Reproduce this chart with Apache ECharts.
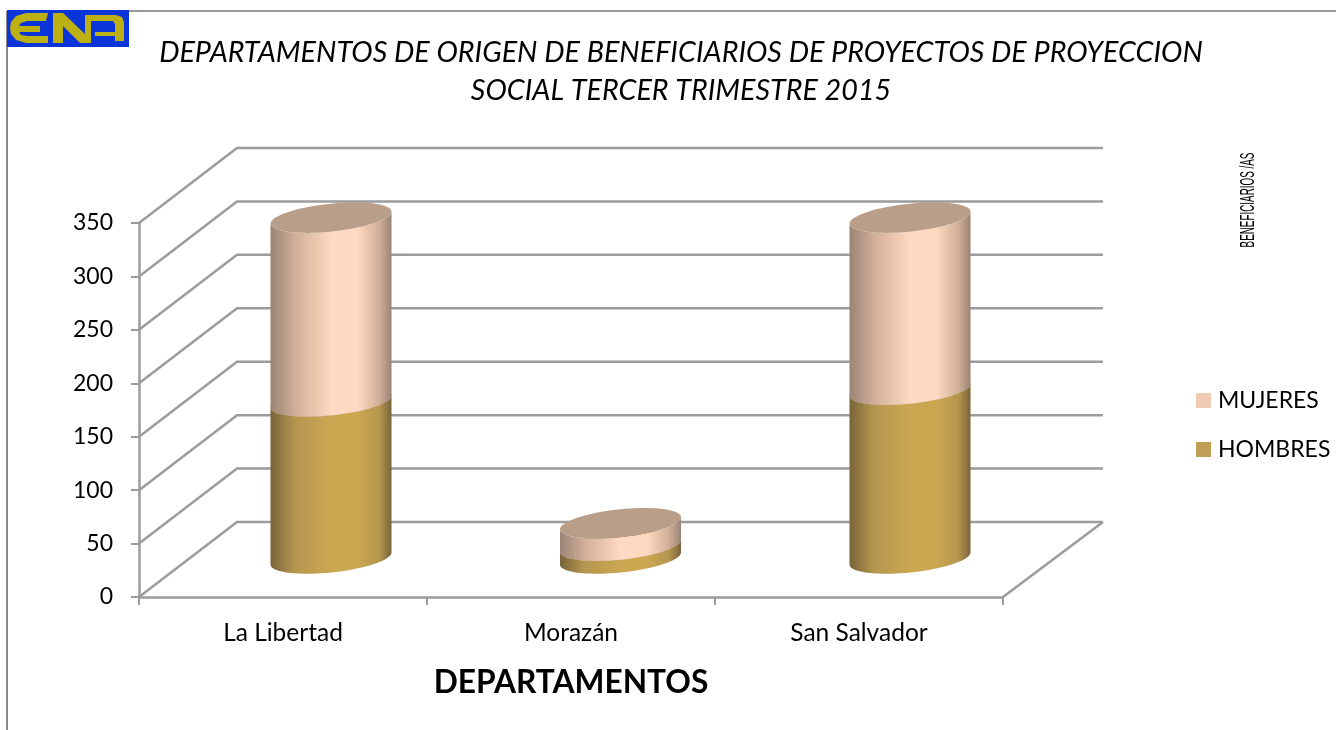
<!DOCTYPE html>
<html>
<head>
<meta charset="utf-8">
<title>Departamentos de origen</title>
<script src="https://cdn.jsdelivr.net/npm/echarts@6/dist/echarts.min.js"></script>
<style>
    html, body { margin: 0; padding: 0; background: #fff; }
    #chart { width: 1336px; height: 730px; }
</style>
</head>
<body>
<div id="chart"></div>
<script>
    var categories = ['La Libertad', 'Morazán', 'San Salvador'];
    var hombres = [147, 12, 158];
    var mujeres = [172, 21, 161];
    var wallTicks = [0, 50, 100, 150, 200, 250, 300, 350];

    var fontName = 'Lato';
    var lineColor = '#9c9c9c';
    // depth of the fake 3d box, in pixels
    var depthX = 98;
    var depthY = -75;
    var radiusX = 60.5;
    var radiusY = 14;
    var skew = -0.1;
    var spread = 1.5;

    function sideGradient(colors) {
        return new echarts.graphic.LinearGradient(0, 0, 1, 0, [
            { offset: 0, color: colors[0] },
            { offset: 0.2, color: colors[1] },
            { offset: 0.5, color: colors[2] },
            { offset: 0.72, color: colors[2] },
            { offset: 0.9, color: colors[1] },
            { offset: 1, color: colors[0] }
        ]);
    }

    function ellipsePoint(cx, cy, t) {
        var c = Math.cos(t);
        return [cx + radiusX * c, cy + radiusY * Math.sin(t) + skew * radiusX * c];
    }

    function renderWall(params, api) {
        var rect = params.coordSys;
        var y = api.coord([0, api.value(1)])[1];
        var left = rect.x, right = rect.x + rect.width;
        var children = [{
            type: 'polyline',
            shape: { points: [[left, y], [left + depthX, y + depthY], [right + depthX + 2, y + depthY]] },
            style: { stroke: lineColor, lineWidth: 2.5, fill: null }
        }];
        if (api.value(1) === 0) {
            children.push({
                type: 'line',
                shape: { x1: right, y1: y, x2: right + depthX + 2, y2: y + depthY },
                style: { stroke: lineColor, lineWidth: 2.5 }
            });
        }
        return { type: 'group', children: children };
    }

    function cylinderRenderer(sideColors, topColor) {
        return function (params, api) {
            var low = api.coord([api.value(0), api.value(1)]);
            var high = api.coord([api.value(0), api.value(2)]);
            var cx = low[0] + depthX / 2 - 1 + spread * api.value(0);
            var lowY = low[1] + depthY / 2 - 1;
            var highY = high[1] + depthY / 2 - 1;
            var side = [], top = [], i;
            for (i = 0; i <= 40; i++) {
                side.push(ellipsePoint(cx, lowY, Math.PI * i / 40));
            }
            for (i = 40; i >= 0; i--) {
                side.push(ellipsePoint(cx, highY, Math.PI * i / 40));
            }
            for (i = 0; i < 80; i++) {
                top.push(ellipsePoint(cx, highY, Math.PI * i / 40));
            }
            return {
                type: 'group',
                children: [
                    { type: 'polygon', shape: { points: side }, style: { fill: sideGradient(sideColors) } },
                    { type: 'polygon', shape: { points: top }, style: { fill: topColor } }
                ]
            };
        };
    }

    var hombresData = categories.map(function (c, i) {
        return [i, 0, hombres[i]];
    });
    var mujeresData = categories.map(function (c, i) {
        return [i, hombres[i], hombres[i] + mujeres[i]];
    });
    var wallData = wallTicks.map(function (v) {
        return [0, v];
    });

    var logoE = [[26,13],[48,13],[46,21],[27,21],[21,23],[19,26],[40,26],[40,32],[19,32],[21,35],[27,36],[48,36],[48,43],[26,43],[16,40],[11,34],[10,28],[11,22],[16,16]];
    var logoNA = [[53,13],[63,13],[85,34],[85,15],[116,15],[122,17],[124,22],[124,41],[115,41],[115,36],[95,36],[95,32],[115,32],[115,24],[113,21],[91,21],[91,43],[80,43],[63,26],[63,43],[53,43]];

    var chart = echarts.init(document.getElementById('chart'));
    chart.setOption({
        animation: false,
        backgroundColor: '#fff',
        textStyle: { fontFamily: fontName },
        title: {
            text: 'DEPARTAMENTOS DE ORIGEN DE BENEFICIARIOS DE PROYECTOS DE PROYECCION\nSOCIAL TERCER TRIMESTRE 2015',
            left: 676,
            top: 29,
            textAlign: 'center',
            textStyle: { fontFamily: fontName, fontSize: 28.7, fontStyle: 'italic', fontWeight: 'normal', color: '#000', lineHeight: 38 }
        },
        legend: {
            orient: 'vertical',
            left: 1196,
            top: 389,
            padding: 0,
            itemWidth: 15,
            itemHeight: 15,
            itemGap: 26,
            icon: 'rect',
            data: ['MUJERES', 'HOMBRES'],
            textStyle: { fontFamily: fontName, fontSize: 23, color: '#000', padding: [0, 0, 0, 2] }
        },
        grid: { left: 139, right: 333, top: 223, bottom: 133 },
        xAxis: {
            type: 'category',
            data: categories,
            name: 'DEPARTAMENTOS',
            nameLocation: 'middle',
            nameGap: 70,
            nameTextStyle: { fontFamily: fontName, fontSize: 31.7, fontWeight: 'bold', color: '#000' },
            axisLine: { lineStyle: { color: lineColor, width: 2.5 } },
            axisTick: { show: true, alignWithLabel: false, length: 8, lineStyle: { color: lineColor, width: 2 } },
            axisLabel: { fontFamily: fontName, fontSize: 24.5, color: '#000', margin: 24 }
        },
        yAxis: {
            type: 'value',
            min: 0,
            max: 350,
            interval: 50,
            splitLine: { show: false },
            axisLine: { show: true, lineStyle: { color: lineColor, width: 2.5 } },
            axisTick: { show: true, length: 8, lineStyle: { color: lineColor, width: 2 } },
            axisLabel: { fontFamily: fontName, fontSize: 23, color: '#000', margin: 26 }
        },
        graphic: [
            { type: 'line', shape: { x1: 129, y1: 11, x2: 1336, y2: 11 }, style: { stroke: '#999', lineWidth: 2 } },
            { type: 'line', shape: { x1: 7, y1: 11, x2: 7, y2: 730 }, style: { stroke: '#8c8c8c', lineWidth: 2 } },
            { type: 'rect', shape: { x: 7, y: 10, width: 122, height: 37 }, style: { fill: '#0a35d8' } },
            { type: 'polygon', shape: { points: logoE }, style: { fill: '#bdb012' } },
            { type: 'polygon', shape: { points: logoNA }, style: { fill: '#bdb012' } },
            {
                type: 'text',
                x: 1248,
                y: 200,
                rotation: Math.PI / 2,
                scaleX: 0.47,
                style: { text: 'BENEFICIARIOS /AS', fontFamily: 'Liberation Sans', fontSize: 21, fill: '#000', align: 'center', verticalAlign: 'middle' }
            }
        ],
        series: [
            { name: 'walls', type: 'custom', renderItem: renderWall, data: wallData, z: 1, silent: true },
            {
                name: 'HOMBRES',
                type: 'custom',
                renderItem: cylinderRenderer(['#79633a', '#b5964f', '#cba752'], '#a68e58'),
                itemStyle: { color: '#bf9f53' },
                data: hombresData,
                z: 2
            },
            {
                name: 'MUJERES',
                type: 'custom',
                renderItem: cylinderRenderer(['#9a8476', '#d0ae98', '#ffd9c1'], '#b99e8a'),
                itemStyle: { color: '#f0cbb4' },
                data: mujeresData,
                z: 3
            }
        ]
    });
</script>
</body>
</html>
